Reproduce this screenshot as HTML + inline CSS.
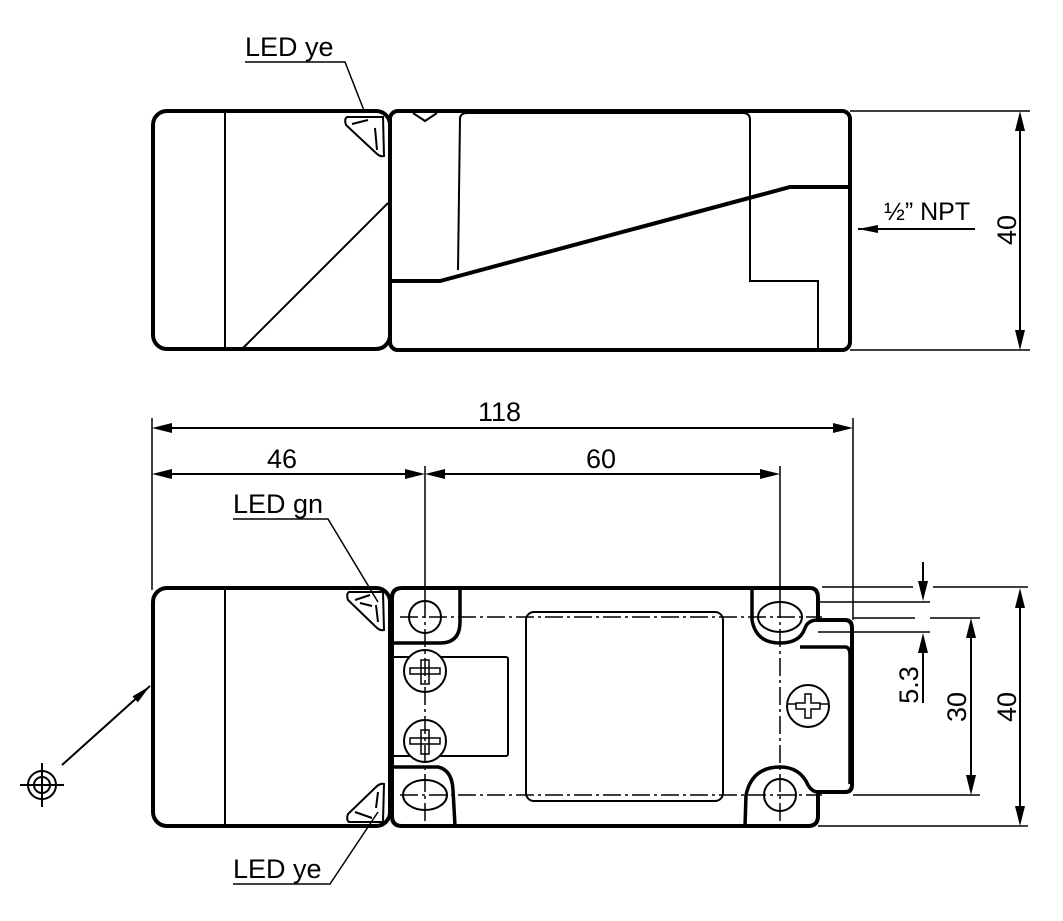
<!DOCTYPE html>
<html><head><style>body{margin:0;background:#fff}svg{display:block}text{font-family:"Liberation Sans",sans-serif;fill:#000}</style></head>
<body>
<svg width="1063" height="921" viewBox="0 0 1063 921" xmlns="http://www.w3.org/2000/svg">
<defs>
<marker id="a" viewBox="0 0 20 8" refX="20" refY="4" markerWidth="20" markerHeight="8" markerUnits="userSpaceOnUse" orient="auto"><path d="M0,0 L20,4 L0,8 z" fill="#000"/></marker>
</defs>
<g fill="none" stroke="#000">
<rect x="153" y="111" width="237" height="238" rx="14" stroke-width="4"/>
<line x1="225" y1="111" x2="225" y2="349" stroke-width="2"/>
<line x1="388" y1="203" x2="243" y2="348" stroke-width="2"/>
<path d="M347,117 L383,117 L384,156 Q380,157 376,153 L346,125 Q344,119 347,117 Z" stroke-width="2"/>
<path d="M352,124 L368,120 M375,128 L377,150" stroke-width="2"/>
<rect x="390" y="111" width="460" height="239" rx="8" stroke-width="4"/>
<path d="M390,281 L440,281 L790,187 L850,187" stroke-width="4"/>
<path d="M458,270 L460,118 Q461,113 467,113 L743,113 Q750,113 750,120 L750,281 L818,281 L818,350" stroke-width="2"/>
<path d="M413,113 L425,121 L437,113" stroke-width="2"/>
<path d="M850,111 L1030,111 M850,350 L1030,350" stroke-width="1.5"/>
<line x1="1020" y1="130" x2="1020" y2="331" stroke-width="2"/>
<path d="M1020,111 l-5,20 h10z M1020,350 l-5,-20 h10z" fill="#000" stroke="none"/>
<line x1="975" y1="229" x2="858" y2="229" stroke-width="2" marker-end="url(#a)"/>

<rect x="153" y="588" width="237" height="238" rx="14" stroke-width="4"/>
<line x1="225" y1="588" x2="225" y2="826" stroke-width="2"/>
<path d="M349,592 L383,592 L384,630 Q380,631 376,627 L348,600 Q346,594 349,592 Z" stroke-width="2"/>
<path d="M355,600 L370,595 M376,605 L378,622 M360,603 L372,606" stroke-width="2"/>
<path d="M349,822 L383,822 L384,784 Q380,783 376,787 L348,814 Q346,820 349,822 Z" stroke-width="2"/>
<path d="M355,812 L372,818 M376,808 L378,792" stroke-width="2"/>
<path d="M402,588 L810,588 Q818,588 818,598 L818,620 L845,620 Q852,620 852,628 L852,785 Q852,792 845,792 L818,792 L818,816 Q818,826 808,826 L402,826 Q392,826 392,816 L392,598 Q392,588 402,588 Z" stroke-width="4"/>
<path d="M460,590 L460,622 Q460,643 440,643 L392,643" stroke-width="3.5"/>
<path d="M752,590 L752,620 Q756,643 780,643 Q800,643 805,628 Q808,620 818,620" stroke-width="3.5"/>
<path d="M392,767 L438,767 Q452,770 453,790 L455,826" stroke-width="3.5"/>
<path d="M745,826 L746,795 Q752,767 780,767 Q800,767 808,785 Q812,792 818,792" stroke-width="3.5"/>
<path d="M800,647 L845,647 Q850,647 850,655 L850,784" stroke-width="3.5"/>
<rect x="526" y="612" width="197" height="189" rx="8" stroke-width="2"/>
<rect x="392" y="657" width="116" height="99" rx="2" stroke-width="2"/>
<circle cx="425" cy="617" r="16" stroke-width="2"/>
<ellipse cx="780" cy="617" rx="22" ry="15" stroke-width="2"/>
<ellipse cx="425" cy="795" rx="22" ry="15" stroke-width="2"/>
<circle cx="780" cy="795" r="16" stroke-width="2"/>
<g stroke-width="2" fill="#fff">
<circle cx="425" cy="671" r="21"/><circle cx="425" cy="741" r="21"/><circle cx="808" cy="706" r="21"/>
</g>
<g stroke-width="1.5">
<path d="M421,660 h8 v24 h-8z M410,668 h30 v6 h-30z"/>
<path d="M421,730 h8 v24 h-8z M410,738 h30 v6 h-30z"/>
<path d="M805,694 h6 v9 h9 v6 h-9 v9 h-6 v-9 h-9 v-6 h9z M788,704 h8 M820,704 h8"/>
</g>
<g stroke-width="1.5" stroke-dasharray="18,4,3,4">
<line x1="400" y1="617" x2="822" y2="617"/>
<line x1="400" y1="795" x2="822" y2="795"/>
<line x1="780" y1="600" x2="780" y2="826"/>
<line x1="425" y1="600" x2="425" y2="826"/>
</g>
<g stroke-width="1.5">
<line x1="152" y1="418" x2="152" y2="590"/>
<line x1="853" y1="418" x2="853" y2="620"/>
<line x1="425" y1="466" x2="425" y2="600"/>
<line x1="780" y1="466" x2="780" y2="600"/>
<path d="M822,587 L913,587 M933,587 L1028,587 M818,602 L930,602 M853,618 L915,618 M930,618 L980,618 M818,632 L930,632 M853,795 L980,795 M818,826 L1028,826"/>
</g>
<g stroke-width="2">
<line x1="172" y1="428" x2="833" y2="428"/>
<line x1="172" y1="474" x2="405" y2="474"/>
<line x1="445" y1="474" x2="760" y2="474"/>
<line x1="1020" y1="607" x2="1020" y2="807"/>
<line x1="971" y1="637" x2="971" y2="776"/>
<line x1="923" y1="562" x2="923" y2="582"/>
<line x1="923" y1="652" x2="923" y2="703"/>
</g>
<g fill="#000" stroke="none">
<path d="M152,428 l20,-5 v10z M853,428 l-20,-5 v10z"/>
<path d="M152,474 l20,-5 v10z M425,474 l-20,-5 v10z M425,474 l20,-5 v10z M780,474 l-20,-5 v10z"/>
<path d="M1020,588 l-5,20 h10z M1020,826 l-5,-20 h10z"/>
<path d="M971,618 l-5,20 h10z M971,795 l-5,-20 h10z"/>
<path d="M923,601 l-5,-20 h10z M923,633 l-5,20 h10z"/>
</g>
<circle cx="42" cy="785" r="14" stroke-width="2"/>
<circle cx="42" cy="785" r="8" stroke-width="2"/>
<path d="M20,785 H64 M42,763 V807" stroke-width="2"/>
<line x1="62" y1="765" x2="150" y2="686" stroke-width="2" marker-end="url(#a)"/>
<path d="M245,62 L345,62 L365,113" stroke-width="1.5"/>
<path d="M233,519 L328,519 L378,602" stroke-width="1.5"/>
<path d="M233,884 L330,884 L378,812" stroke-width="1.5"/>
</g>
<g font-size="27">
<text x="245" y="56">LED ye</text>
<text x="233" y="513">LED gn</text>
<text x="233" y="878">LED ye</text>
<text x="478" y="421">118</text>
<text x="267" y="468">46</text>
<text x="586" y="468">60</text>
<text x="884" y="220" font-size="25">½” NPT</text>
<text transform="translate(1016,230) rotate(-90)" text-anchor="middle">40</text>
<text transform="translate(1016,707) rotate(-90)" text-anchor="middle">40</text>
<text transform="translate(966,707) rotate(-90)" text-anchor="middle">30</text>
<text transform="translate(918,685) rotate(-90)" text-anchor="middle">5.3</text>
</g>
</svg>
</body></html>
